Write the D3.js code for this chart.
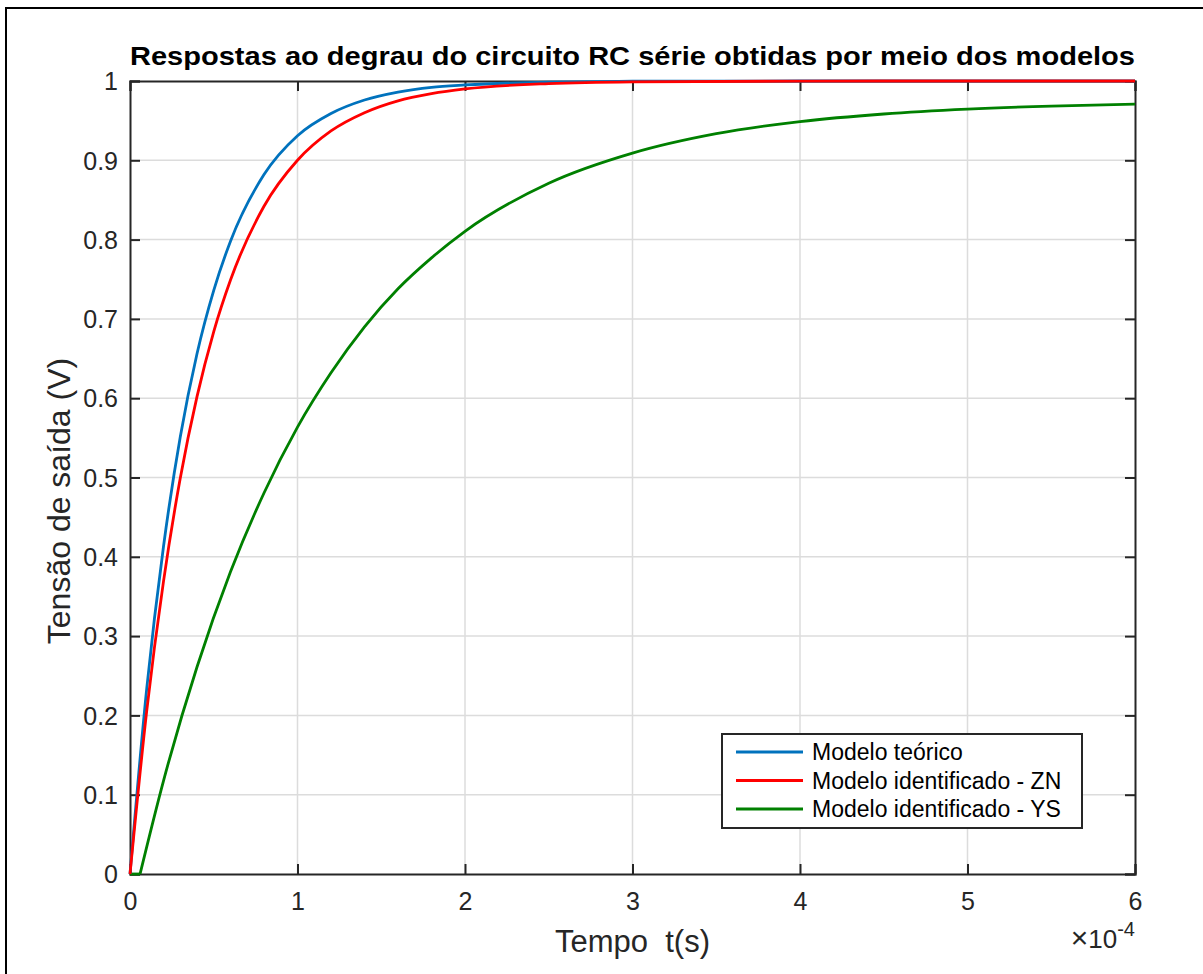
<!DOCTYPE html>
<html>
<head>
<meta charset="utf-8">
<style>
body { margin: 0; background: #fff; }
text { font-family: Arial, "Liberation Sans", Helvetica, sans-serif; fill: #262626; }
.grid line { stroke: #dcdcdc; stroke-width: 1.5; }
.tick-mark { stroke: #262626; stroke-width: 2; }
</style>
<title>degrau RC</title>
<script src="https://d3js.org/d3.v7.min.js"></script>
</head>
<body>
<svg width="1203" height="974"></svg>
<script>

// tempo em unidades de 1e-4 s
var tempoModelos = [0, 0.1, 0.2, 0.3, 0.4, 0.5, 0.6, 0.8, 1.0, 1.2, 1.4, 1.6, 1.8, 2.0, 2.5, 3.0, 4.0, 5.0, 6.0];
var teorico      = [0, 0.234, 0.413, 0.551, 0.656, 0.736, 0.798, 0.882, 0.931, 0.959, 0.976, 0.986, 0.992, 0.995, 0.9987, 0.9997, 1, 1, 1];
var zn           = [0, 0.206, 0.369, 0.499, 0.602, 0.684, 0.749, 0.842, 0.900, 0.937, 0.960, 0.975, 0.984, 0.990, 0.9968, 0.999, 0.9999, 1, 1];
var tempoYS      = [0, 0.06, 0.2, 0.4, 0.6, 0.8, 1.0, 1.2, 1.4, 1.6, 1.8, 2.0, 2.5, 3.0, 3.5, 4.0, 4.5, 5.0, 5.5, 6.0];
var ys           = [0, 0, 0.1175, 0.261, 0.381, 0.4805, 0.5635, 0.632, 0.690, 0.738, 0.777, 0.8105, 0.871, 0.909, 0.9335, 0.9488, 0.9584, 0.9645, 0.9684, 0.9708];

var xTicks = [0, 1, 2, 3, 4, 5, 6];
var yTicks = [0, 0.1, 0.2, 0.3, 0.4, 0.5, 0.6, 0.7, 0.8, 0.9, 1];
var yTickLabels = ["0", "0.1", "0.2", "0.3", "0.4", "0.5", "0.6", "0.7", "0.8", "0.9", "1"];

var legendNames = ["Modelo teórico", "Modelo identificado - ZN", "Modelo identificado - YS"];
var colors = ["#0072bd", "#ff0000", "#008000"];

var svg = d3.select("svg"),
    margin = {top: 81, right: 68, bottom: 100, left: 130},
    width = 1135 - margin.left,
    height = 874 - margin.top;

// moldura externa
svg.append("rect")
    .attr("x", 6).attr("y", 8)
    .attr("width", 1210).attr("height", 980)
    .attr("fill", "none")
    .attr("stroke", "#000")
    .attr("stroke-width", 2);

var x = d3.scaleLinear().domain([0, 6]).range([0, width]),
    y = d3.scaleLinear().domain([0, 1]).range([height, 0]);

var g = svg.append("g")
    .attr("transform", "translate(" + margin.left + "," + margin.top + ")");

// grade
var grid = g.append("g").attr("class", "grid");
grid.selectAll(".gx").data(xTicks.slice(1, -1)).enter().append("line")
    .attr("x1", function(d) { return x(d); }).attr("x2", function(d) { return x(d); })
    .attr("y1", 0).attr("y2", height);
grid.selectAll(".gy").data(yTicks.slice(1, -1)).enter().append("line")
    .attr("y1", function(d) { return y(d); }).attr("y2", function(d) { return y(d); })
    .attr("x1", 0).attr("x2", width);

// eixos
var tickLen = 10;
var xAxis = g.append("g")
    .attr("transform", "translate(0," + height + ")")
    .call(d3.axisBottom(x).tickValues(xTicks).tickSize(-tickLen).tickPadding(36).tickFormat(d3.format("d")));
var xAxisTop = g.append("g")
    .call(d3.axisTop(x).tickValues(xTicks).tickSize(-tickLen).tickFormat(""));
var yAxis = g.append("g")
    .call(d3.axisLeft(y).tickValues(yTicks).tickSize(-tickLen).tickPadding(12)
      .tickFormat(function(d, i) { return yTickLabels[i]; }));
var yAxisRight = g.append("g")
    .attr("transform", "translate(" + width + ",0)")
    .call(d3.axisRight(y).tickValues(yTicks).tickSize(-tickLen).tickFormat(""));

[xAxis, xAxisTop, yAxis, yAxisRight].forEach(function(a) {
  a.select(".domain").attr("stroke", "#262626").attr("stroke-width", 2);
  a.selectAll(".tick line").attr("class", "tick-mark");
  a.selectAll(".tick text").attr("font-size", 25).attr("font-family", null).attr("fill", "#262626");
});
xAxis.selectAll(".tick text").attr("dy", 0);
yAxis.selectAll(".tick text").attr("dy", "0.35em");

// curvas
var lineM = d3.line().curve(d3.curveMonotoneX)
    .x(function(d) { return x(d[0]); })
    .y(function(d) { return y(d[1]); });
var lineL = d3.line()
    .x(function(d) { return x(d[0]); })
    .y(function(d) { return y(d[1]); });

var series = [
  d3.zip(tempoModelos, teorico),
  d3.zip(tempoModelos, zn),
  d3.zip(tempoYS, ys)
];

// YS: trecho do atraso e trecho da subida
g.append("path")
    .attr("d", lineL(series[2].slice(0, 2)))
    .attr("fill", "none").attr("stroke", colors[2]).attr("stroke-width", 2.8);
g.append("path")
    .attr("d", lineM(series[2].slice(1)))
    .attr("fill", "none").attr("stroke", colors[2]).attr("stroke-width", 2.8);
g.append("path")
    .attr("d", lineM(series[0]))
    .attr("fill", "none").attr("stroke", colors[0]).attr("stroke-width", 2.8);
g.append("path")
    .attr("d", lineM(series[1]))
    .attr("fill", "none").attr("stroke", colors[1]).attr("stroke-width", 2.8);

// textos
svg.append("text")
    .attr("x", margin.left + width / 2).attr("y", 65)
    .attr("text-anchor", "middle")
    .attr("font-size", 25).attr("font-weight", "bold")
    .attr("textLength", 1005).attr("lengthAdjust", "spacingAndGlyphs")
    .style("fill", "#000")
    .text("Respostas ao degrau do circuito RC série obtidas por meio dos modelos");

svg.append("text")
    .attr("x", margin.left + width / 2).attr("y", 952)
    .attr("text-anchor", "middle")
    .attr("font-size", 31)
    .attr("xml:space", "preserve")
    .style("white-space", "pre")
    .text("Tempo  t(s)");

svg.append("text")
    .attr("transform", "translate(70,501) rotate(-90)")
    .attr("text-anchor", "middle")
    .attr("font-size", 32)
    .text("Tensão de saída (V)");

var expo = svg.append("text")
    .attr("x", 1135).attr("y", 948)
    .attr("text-anchor", "end")
    .attr("font-size", 26);
expo.append("tspan").text("\u00d7").attr("font-size", 30).attr("font-weight", 300);
expo.append("tspan").text("10");
expo.append("tspan").text("-4").attr("font-size", 20).attr("dy", -12);

// legenda
var lg = svg.append("g")
    .attr("transform", "translate(722,734)");
lg.append("rect")
    .attr("width", 360).attr("height", 94)
    .attr("fill", "#fff").attr("stroke", "#262626").attr("stroke-width", 2);
legendNames.forEach(function(name, i) {
  var ly = 18 + i * 28.5;
  lg.append("line")
    .attr("x1", 14).attr("x2", 81).attr("y1", ly).attr("y2", ly)
    .attr("stroke", colors[i]).attr("stroke-width", 2.8);
  lg.append("text")
    .attr("x", 90).attr("y", ly).attr("dy", "0.35em")
    .attr("font-size", 23)
    .style("fill", "#000")
    .text(name);
});

</script>
</body>
</html>
